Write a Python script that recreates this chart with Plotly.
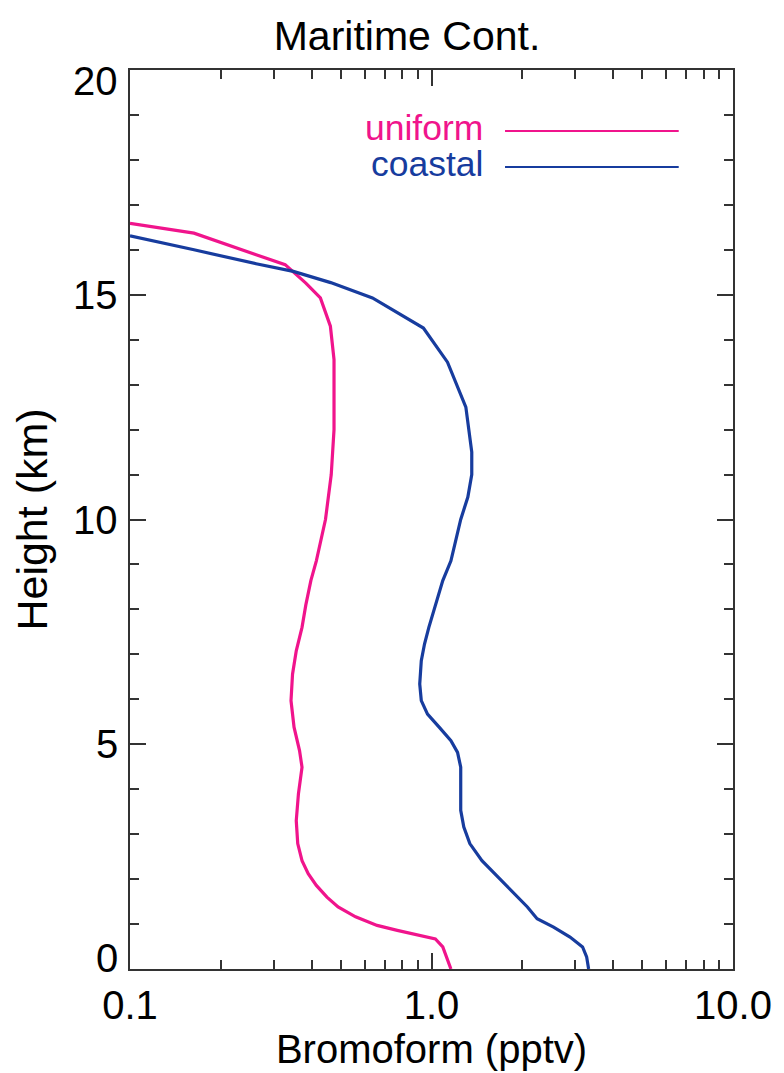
import plotly.graph_objects as go

# ---- data ----
uniform_height = [0.0, 0.49, 0.67, 0.75, 0.86, 0.97, 1.16, 1.38, 1.6, 1.86, 2.12, 2.41, 2.79,
                  3.3, 3.9, 4.49, 4.86, 5.38, 5.97, 6.56, 7.08, 7.6, 8.1, 8.64, 9.08, 10.0,
                  11.0, 12.0, 13.56, 14.3, 14.93, 15.26, 15.52, 15.67, 15.89, 16.11, 16.37, 16.59]
uniform_value = [1.16, 1.09, 1.03, 0.90, 0.77, 0.66, 0.56, 0.49, 0.45, 0.415, 0.39, 0.372, 0.36,
                 0.356, 0.362, 0.372, 0.365, 0.35, 0.342, 0.346, 0.356, 0.372, 0.383, 0.398, 0.415, 0.445,
                 0.465, 0.475, 0.475, 0.462, 0.428, 0.383, 0.348, 0.327, 0.262, 0.21, 0.163, 0.1]

coastal_height = [0.0, 0.27, 0.49, 0.71, 0.93, 1.12, 1.38, 1.67, 2.04, 2.41, 2.79, 3.16, 3.53,
                  4.49, 4.82, 5.08, 5.38, 5.67, 5.97, 6.34, 6.86, 7.23, 7.6, 7.97, 8.64, 9.08,
                  10.0, 10.5, 11.0, 11.5, 12.5, 13.5, 14.26, 14.93, 15.27, 15.52, 15.69, 16.0, 16.31]
coastal_value = [3.32, 3.27, 3.17, 2.88, 2.54, 2.24, 2.08, 1.89, 1.66, 1.47, 1.34, 1.28, 1.25,
                 1.25, 1.22, 1.16, 1.06, 0.97, 0.925, 0.914, 0.925, 0.948, 0.98, 1.02, 1.09, 1.16,
                 1.25, 1.32, 1.36, 1.36, 1.30, 1.13, 0.94, 0.637, 0.463, 0.348, 0.262, 0.163, 0.1]

x_tick_vals = [0.1, 1.0, 10.0]
x_tick_text = ["0.1", "1.0", "10.0"]
x_minor_vals = [0.2, 0.3, 0.4, 0.5, 0.6, 0.7, 0.8, 0.9, 2, 3, 4, 5, 6, 7, 8, 9]
y_tick_vals = [0, 5, 10, 15, 20]
y_tick_text = ["0", "5", "10", "15", "20"]
y_minor_vals = [1, 2, 3, 4, 6, 7, 8, 9, 11, 12, 13, 14, 16, 17, 18, 19]

PINK = "#F0148C"
BLUE = "#173C9E"
AXC = "#333333"
FONT = "Liberation Sans, Arial, sans-serif"

fig = go.Figure()
fig.add_trace(go.Scatter(x=uniform_value, y=uniform_height, mode="lines",
                         line=dict(color=PINK, width=3.2), name="uniform", showlegend=False))
fig.add_trace(go.Scatter(x=coastal_value, y=coastal_height, mode="lines",
                         line=dict(color=BLUE, width=3.2), name="coastal", showlegend=False))

W, H = 784, 1073
L, R, T, B = 130, 43, 70, 104
pw, ph = W - L - R, H - T - B

def px(x):
    return (x - L) / pw

def py(y):
    return (H - B - y) / ph

fig.update_layout(
    width=W, height=H,
    margin=dict(l=L, r=R, t=T, b=B, pad=0),
    paper_bgcolor="white", plot_bgcolor="white",
    font=dict(family=FONT, color="black", size=40),
    title=dict(text="Maritime Cont.", x=407 / W, xanchor="center", y=1 - 36 / H, yanchor="middle",
               xref="container", yref="container", font=dict(size=41, family=FONT)),
    xaxis=dict(type="log", range=[-1, 1], tickvals=x_tick_vals, ticktext=x_tick_text,
               ticks="inside", ticklen=16, tickwidth=1.5, tickcolor=AXC,
               minor=dict(tickvals=x_minor_vals, ticks="inside", ticklen=9, tickwidth=1.5, tickcolor=AXC),
               showline=True, linecolor=AXC, linewidth=2, mirror="ticks", showgrid=False, zeroline=False,
               tickfont=dict(size=40), title=dict(text="Bromoform (pptv)", font=dict(size=40), standoff=4)),
    yaxis=dict(range=[0, 20], tickvals=y_tick_vals, showticklabels=False,
               ticks="inside", ticklen=16, tickwidth=1.5, tickcolor=AXC,
               minor=dict(tickvals=y_minor_vals, ticks="inside", ticklen=9, tickwidth=1.5, tickcolor=AXC),
               showline=True, linecolor=AXC, linewidth=2, mirror="ticks", showgrid=False, zeroline=False,
               title=dict(text="Height (km)", font=dict(size=43), standoff=67)),
)

# y tick labels (kept inside the axis span, as in the original)
n = len(y_tick_vals)
for i, (v, t) in enumerate(zip(y_tick_vals, y_tick_text)):
    shift = 11 if i == 0 else (-11 if i == n - 1 else 0)
    fig.add_annotation(text=t, x=0, xref="paper", y=v, yref="y", xanchor="right", yanchor="middle",
                       xshift=-10, yshift=shift, showarrow=False, font=dict(size=40, color="black"))

# legend (text left of line)
for label, color, ypix in [("uniform", PINK, 131), ("coastal", BLUE, 167)]:
    fig.add_annotation(text=label, x=px(490), y=py(ypix - 3), xref="paper", yref="paper",
                       xanchor="right", yanchor="middle", showarrow=False,
                       font=dict(size=35.5, color=color, family=FONT))
    fig.add_shape(type="line", xref="paper", yref="paper", x0=px(510), x1=px(686),
                  y0=py(ypix), y1=py(ypix), line=dict(color=color, width=2))

fig.write_html("out.html", config={"displayModeBar": False},
               post_script="document.body.style.margin='0';document.body.style.overflow='hidden';")
